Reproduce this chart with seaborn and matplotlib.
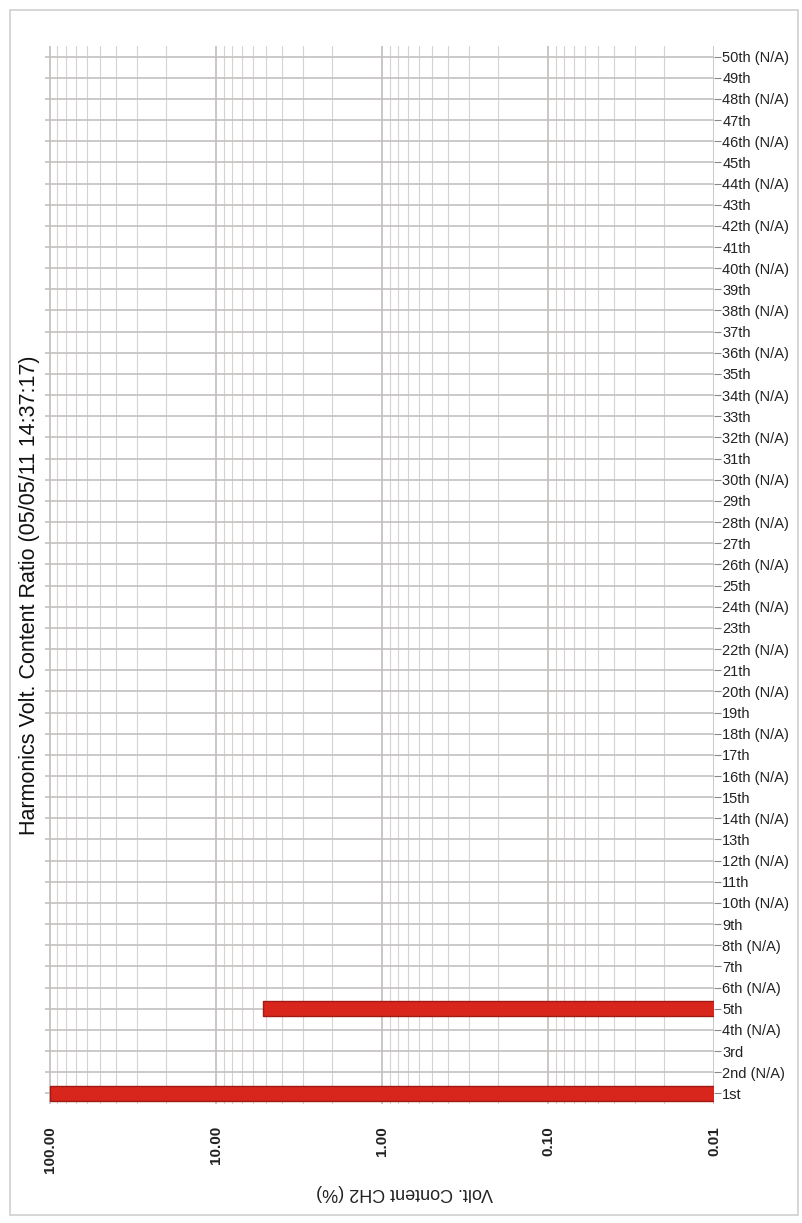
import numpy as np
import pandas as pd
import matplotlib
matplotlib.use("Agg")
import matplotlib.pyplot as plt
from matplotlib.ticker import FixedLocator, LogLocator, NullFormatter
import seaborn as sns

# Harmonic orders 1..50; even orders are not measured (N/A)
orders = list(range(1, 51))
suffix = {1: "st", 2: "nd", 3: "rd"}
labels = [f"{n}{suffix.get(n, 'th')}" + (" (N/A)" if n % 2 == 0 else "") for n in orders]

# Voltage content ratio on CH2 (%); NaN = not available, 0 = below display range
content_pct = [
    100.0, np.nan, 0.0, np.nan, 5.2, np.nan, 0.0, np.nan, 0.0, np.nan,
    0.0, np.nan, 0.0, np.nan, 0.0, np.nan, 0.0, np.nan, 0.0, np.nan,
    0.0, np.nan, 0.0, np.nan, 0.0, np.nan, 0.0, np.nan, 0.0, np.nan,
    0.0, np.nan, 0.0, np.nan, 0.0, np.nan, 0.0, np.nan, 0.0, np.nan,
    0.0, np.nan, 0.0, np.nan, 0.0, np.nan, 0.0, np.nan, 0.0, np.nan,
]

x_ticks = [100.0, 10.0, 1.0, 0.1, 0.01]
x_tick_labels = ["100.00", "10.00", "1.00", "0.10", "0.01"]

title = "Harmonics Volt. Content Ratio (05/05/11 14:37:17)"
x_title = "Volt. Content CH2 (%)"

df = pd.DataFrame({"harmonic": labels, "value": content_pct})
order = labels[::-1]  # highest order at the top

sns.set_theme(style="white")
plt.rcParams["font.family"] = ["Liberation Sans", "DejaVu Sans"]

fig = plt.figure(figsize=(8.03, 12.23), dpi=100)
ax = fig.add_axes([45 / 803, 1 - 1104 / 1223, (714 - 45) / 803, (1104 - 46) / 1223])

sns.barplot(data=df, x="value", y="harmonic", order=order, orient="h",
            color="#d9261c", saturation=1, width=0.7,
            edgecolor="#9e1a12", linewidth=1.0, ax=ax)

ax.set_xscale("log")
ax.set_xlim(107, 0.01)
ax.set_ylim(49.5, -0.5)

ax.xaxis.set_major_locator(FixedLocator(x_ticks))
ax.xaxis.set_minor_locator(LogLocator(base=10, subs=np.arange(2, 10)))
ax.xaxis.set_minor_formatter(NullFormatter())
ax.set_xticks(x_ticks)
ax.set_xticklabels(x_tick_labels, rotation=90, fontsize=11, color="#222222",
                   fontweight="bold")

ax.grid(True, which="major", axis="x", color="#bdb8b8", lw=1.1)
ax.grid(True, which="minor", axis="x", color="#d6d2d2", lw=0.8)
ax.grid(True, which="major", axis="y", color="#c4c0c0", lw=1.2)
ax.set_axisbelow(True)

ax.yaxis.tick_right()
ax.tick_params(axis="y", which="major", right=True, length=5, width=0.8,
               color="#888888", labelsize=10.5, labelcolor="#222222", pad=1)
ax.tick_params(axis="x", which="both", bottom=False, pad=10)

for s in ax.spines.values():
    s.set_visible(False)

ax.set_ylabel("")
ax.set_xlabel("")

# axis title below the tick labels (printed upside down)
fig.text(405 / 803, 1 - 1193 / 1223, x_title, rotation=180, ha="center", va="center",
         fontsize=13, color="#222222")

fig.text(30 / 803, 1 - 595 / 1223, title, rotation=90, ha="center", va="center",
         fontsize=15.5, color="#111111")

# page frame
fig.add_artist(plt.Rectangle((10 / 803, 8 / 1223), 788 / 803, 1205 / 1223,
                             transform=fig.transFigure, fill=False,
                             edgecolor="#cfcfcf", lw=1.2))

fig.savefig("out.png", dpi=100)
